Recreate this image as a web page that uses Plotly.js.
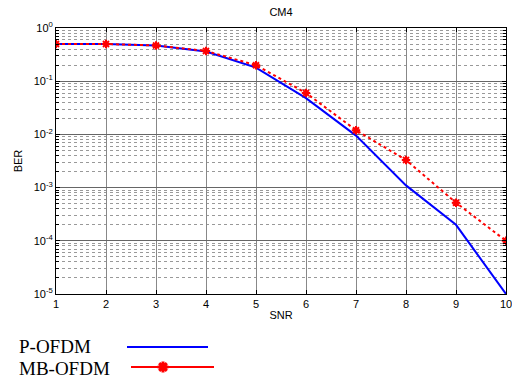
<!DOCTYPE html>
<html>
<head>
<meta charset="utf-8">
<script src="https://cdn.plot.ly/plotly-3.0.1.min.js"></script>
<style>html,body{margin:0;padding:0;background:#fff;}#chart{width:512px;height:379px;}</style>
</head>
<body>
<div id="chart"></div>
<script>
const snr = [1, 2, 3, 4, 5, 6, 7, 8, 9, 10];
const pOfdm = [0.5, 0.5, 0.47, 0.36, 0.18, 0.048, 0.0095, 0.0011, 0.0002, 0.00001];
const mbOfdm = [0.5, 0.5, 0.47, 0.37, 0.2, 0.06, 0.012, 0.0033, 0.00052, 0.0001];
const seriesNames = ["P-OFDM", "MB-OFDM"];
const yTickVals = [1, 0.1, 0.01, 0.001, 0.0001, 0.00001];
const yTickText = ["10<sup>0</sup>", "10<sup>-1</sup>", "10<sup>-2</sup>", "10<sup>-3</sup>", "10<sup>-4</sup>", "10<sup>-5</sup>"];

const blue = "#0000ff", red = "#ff0000";
const mainBottom = (379 - 294) / 351;
const px = p => (p - 56) / 450;          // page x -> paper x
const py = p => (379 - p) / 351;         // page y -> paper y

const traces = [
  {x: snr, y: pOfdm, name: seriesNames[0], mode: "lines", line: {color: blue, width: 2}, showlegend: false},
  {x: snr, y: mbOfdm, name: seriesNames[1], mode: "lines+markers", line: {color: red, width: 2, dash: "dot"},
   marker: {symbol: "asterisk-open", size: 7, color: red, line: {color: red, width: 2}}, showlegend: false},
  // legend glyph marker for MB-OFDM
  {x: [107], y: [12], xaxis: "x2", yaxis: "y2", mode: "markers", showlegend: false, hoverinfo: "skip",
   marker: {symbol: "asterisk-open", size: 9, color: red, line: {color: red, width: 3}}}
];

const legendFont = {family: "Liberation Serif, Times New Roman, serif", size: 19, color: "#000"};

const layout = {
  width: 512, height: 379,
  margin: {l: 56, r: 6, t: 28, b: 0},
  paper_bgcolor: "#fff", plot_bgcolor: "#fff",
  font: {family: "Liberation Sans, Arial, sans-serif", size: 11, color: "#000"},
  title: {text: "CM4", font: {size: 11, color: "#000"}, x: 0.5, xref: "paper", y: 1 - 12/379, yanchor: "middle"},
  xaxis: {
    domain: [0, 1], anchor: "y", range: [1, 10], tickvals: snr, ticktext: snr.map(String),
    ticklabeloverflow: "allow",
    showline: true, linecolor: "#000", linewidth: 1, mirror: "ticks", ticks: "inside", ticklen: 4, tickcolor: "#000",
    showgrid: true, gridcolor: "#888", gridwidth: 1, zeroline: false,
    tickfont: {size: 11}, title: {text: "SNR", font: {size: 11}, standoff: 2}
  },
  yaxis: {
    domain: [mainBottom, 1], anchor: "x", type: "log", range: [-5, 0],
    tickvals: yTickVals, ticktext: yTickText,
    showline: true, linecolor: "#000", linewidth: 1, mirror: "ticks", ticks: "inside", ticklen: 4, tickcolor: "#000",
    showgrid: true, gridcolor: "#666", gridwidth: 1, zeroline: false,
    minor: {dtick: "D1", showgrid: true, gridcolor: "#999", griddash: "dot", ticks: "inside", ticklen: 3, tickcolor: "#000"},
    tickfont: {size: 11}, title: {text: "BER", font: {size: 11}, standoff: 8}
  },
  xaxis2: {domain: [0, 1], anchor: "y2", range: [0, 450], visible: false, fixedrange: true},
  yaxis2: {domain: [0, mainBottom], anchor: "x2", range: [0, 85], visible: false, fixedrange: true},
  shapes: [
    {type: "line", xref: "paper", yref: "paper", x0: px(127), x1: px(208), y0: py(347), y1: py(347), line: {color: blue, width: 2}},
    {type: "line", xref: "paper", yref: "paper", x0: px(131), x1: px(214), y0: py(367), y1: py(367), line: {color: red, width: 2}}
  ],
  annotations: [
    {text: seriesNames[0], xref: "paper", yref: "paper", x: px(17), y: py(346), xanchor: "left", yanchor: "middle", showarrow: false, font: legendFont},
    {text: seriesNames[1], xref: "paper", yref: "paper", x: px(17), y: py(368), xanchor: "left", yanchor: "middle", showarrow: false, font: legendFont}
  ]
};

Plotly.newPlot("chart", traces, layout, {displayModeBar: false, staticPlot: true});
</script>
</body>
</html>
